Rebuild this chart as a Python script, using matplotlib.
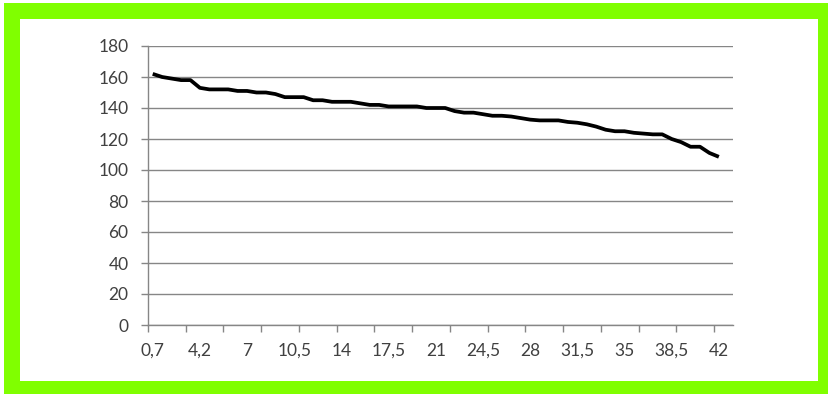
import matplotlib
matplotlib.use("Agg")
import matplotlib.pyplot as plt
from matplotlib.patches import Rectangle

# Data (61 points on a 62-category axis)
values = [162, 160, 159, 158, 158, 153, 152, 152, 152, 151,
          151, 150, 150, 149, 147, 147, 147, 145, 145, 144,
          144, 144, 143, 142, 142, 141, 141, 141, 141, 140,
          140, 140, 138, 137, 137, 136, 135, 135, 134.5, 133.5,
          132.5, 132, 132, 132, 131, 130.5, 129.5, 128, 126, 125,
          125, 124, 123.5, 123, 123, 120, 118, 115, 115, 111,
          108.5]
n_categories = 62
x_labels = ["0,7", "4,2", "7", "10,5", "14", "17,5", "21", "24,5",
            "28", "31,5", "35", "38,5", "42"]
label_every = 5
tick_every = 4
y_ticks = [0, 20, 40, 60, 80, 100, 120, 140, 160, 180]

W, H = 829, 394
fig = plt.figure(figsize=(W / 100, H / 100), dpi=100)
fig.patch.set_facecolor("white")

green = "#80FF00"
# green frame
fig.patches.append(Rectangle((4 / W, 0), 1 - 4 / W, 1 - 3 / H,
                             transform=fig.transFigure, facecolor=green,
                             edgecolor="none", zorder=-10))
fig.patches.append(Rectangle((20 / W, 13 / H), (818 - 20) / W, (381 - 19) / H,
                             transform=fig.transFigure, facecolor="white",
                             edgecolor="none", zorder=-9))

ax = fig.add_axes([148 / W, 1 - 325 / H, (733 - 148) / W, (325 - 46) / H])
ax.set_facecolor("none")
ax.set_zorder(1)

xs = list(range(len(values)))
ax.plot(xs, values, color="black", linewidth=2.7, solid_joinstyle="round",
        solid_capstyle="butt", zorder=3)

ax.set_xlim(-0.5, n_categories - 0.5)
ax.set_ylim(0, 180)

gray = "#868686"
ax.set_yticks(y_ticks)
ax.set_yticklabels([str(v) for v in y_ticks])
ax.yaxis.grid(True, color=gray, linewidth=1.0)
ax.set_axisbelow(True)

# tick marks at category boundaries
major = [i - 0.5 for i in range(0, n_categories, tick_every)]
ax.set_xticks(major)
ax.set_xticklabels([""] * len(major))
minor = [i * label_every for i in range(len(x_labels))]
ax.set_xticks(minor, minor=True)
ax.set_xticklabels(x_labels, minor=True)

ax.tick_params(axis="x", which="major", direction="out", length=5,
               color=gray, width=1)
ax.tick_params(axis="x", which="minor", length=0, pad=13,
               labelsize=12.5, labelcolor="#404040")
ax.tick_params(axis="y", direction="out", length=5, color=gray, width=1,
               labelsize=12.5, labelcolor="#404040", pad=9)
for lab in ax.get_xticklabels(minor=True) + ax.get_yticklabels():
    lab.set_family(["Lato", "DejaVu Sans"])

for s in ["top", "right"]:
    ax.spines[s].set_visible(False)
for s in ["left", "bottom"]:
    ax.spines[s].set_color(gray)
    ax.spines[s].set_linewidth(1)

fig.savefig("out.png", dpi=100)
